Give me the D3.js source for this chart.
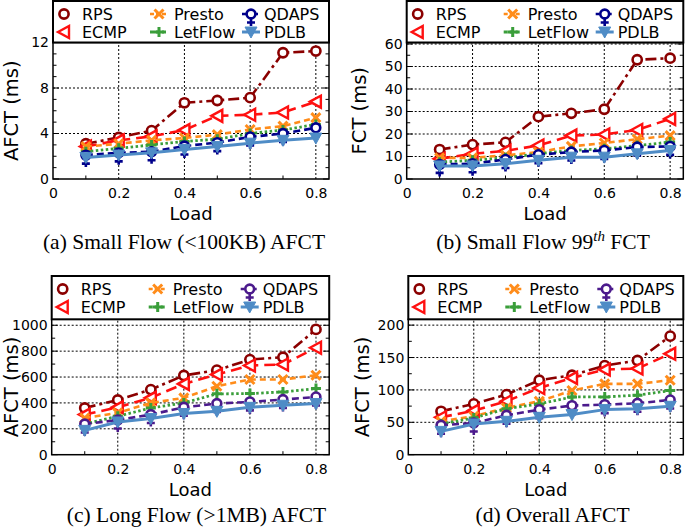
<!DOCTYPE html>
<html><head><meta charset="utf-8">
<script src="https://cdn.jsdelivr.net/npm/d3@7"></script>
<style>body{margin:0;background:#fff}svg{display:block}</style>
</head><body>
<svg id="c" width="685" height="532"></svg>
<script>
// ---------- data ----------
const loads = [0.1,0.2,0.3,0.4,0.5,0.6,0.7,0.8];
const seriesNames = ["RPS","ECMP","Presto","LetFlow","QDAPS","PDLB"];
const xTicks = [0,0.2,0.4,0.6,0.8];

// (a) Small flow AFCT (ms)
const smallAfctRPS     = [3.1,3.65,4.25,6.7,6.9,7.15,11.1,11.25];
const smallAfctECMP    = [2.85,3.4,3.75,4.3,5.55,5.65,5.85,6.8];
const smallAfctPresto  = [2.85,3.1,3.4,3.6,3.9,4.35,4.65,5.4];
const smallAfctLetFlow = [2.4,2.7,3.0,3.3,3.5,4.0,4.3,4.8];
const smallAfctQDAPS   = [2.1,2.3,2.4,2.9,3.2,3.7,4.0,4.5];
const smallAfctPDLB    = [1.9,2.1,2.3,2.6,2.85,3.15,3.4,3.6];
const yTicksA = [0,4,8,12];

// (b) Small flow 99th FCT (ms)
const small99RPS     = [13.1,15.3,16.3,27.7,29.2,31,53,53.7];
const small99ECMP    = [9,11.2,12.5,14.9,19.3,19.8,21.8,26.7];
const small99Presto  = [9.4,9.4,10.5,12,14.5,16,17.7,19.3];
const small99LetFlow = [7.5,8.3,9.4,11.2,12.7,13.4,14.9,16.4];
const small99QDAPS   = [6.5,6.8,8.7,10.8,12,12.7,14.2,14.5];
const small99PDLB    = [5.8,5.8,6.8,8.3,9.7,9.7,11.2,12.7];
const yTicksB = [0,10,20,30,40,50,60];

// (c) Long flow AFCT (ms)
const longAfctRPS     = [361,423,503,612,653,735,753,968];
const longAfctECMP    = [310,366,439,547,619,689,697,826];
const longAfctPresto  = [284,323,400,439,529,581,581,614];
const longAfctLetFlow = [237,297,361,400,470,472,485,511];
const longAfctQDAPS   = [237,268,310,366,395,408,426,446];
const longAfctPDLB    = [188,253,279,318,335,366,382,395];
const yTicksC = [0,200,400,600,800,1000];

// (d) Overall AFCT (ms)
const allAfctRPS     = [67,78.4,92.8,115,122.7,137.6,145.4,183];
const allAfctECMP    = [57.7,68,82.5,103,118.6,131.4,133,155.7];
const allAfctPresto  = [51.5,59.3,72.2,82.5,99,109.3,109.3,115];
const allAfctLetFlow = [47.4,56.7,71,78.4,89.2,89.2,91.8,99];
const allAfctQDAPS   = [45.4,49,60.8,69.6,75.8,77.3,79.4,84.5];
const allAfctPDLB    = [36,47.4,51.5,57.7,61.9,69.6,71,74.7];
const yTicksD = [0,50,100,150,200];

// ---------- layout / style ----------
const panels = [
  {series:[smallAfctRPS,smallAfctECMP,smallAfctPresto,smallAfctLetFlow,smallAfctQDAPS,smallAfctPDLB],
   yTicks:yTicksA, yMax:12, minor:1, left:53, right:329, top:42.5, bottom:179, legTop:1,
   ylabel:"AFCT (ms)", ylabX:18, qColor:"#00008b", capX:184, capY:249, cap:"a"},
  {series:[small99RPS,small99ECMP,small99Presto,small99LetFlow,small99QDAPS,small99PDLB],
   yTicks:yTicksB, yMax:60.67, minor:5, left:406.7, right:683.3, top:42.5, bottom:179, legTop:1,
   ylabel:"FCT (ms)", ylabX:366, qColor:"#00008b", capX:543, capY:249, cap:"b"},
  {series:[longAfctRPS,longAfctECMP,longAfctPresto,longAfctLetFlow,longAfctQDAPS,longAfctPDLB],
   yTicks:yTicksC, yMax:1046, minor:100, left:51.7, right:329.2, top:319.3, bottom:454.7, legTop:276,
   ylabel:"AFCT (ms)", ylabX:18, qColor:"#4b1a8c", capX:196.5, capY:522, cap:"c"},
  {series:[allAfctRPS,allAfctECMP,allAfctPresto,allAfctLetFlow,allAfctQDAPS,allAfctPDLB],
   yTicks:yTicksD, yMax:209, minor:25, left:408.3, right:683.3, top:319.3, bottom:454.7, legTop:276,
   ylabel:"AFCT (ms)", ylabX:369, qColor:"#4b1a8c", capX:552.5, capY:522, cap:"d"}
];

const styles = [
  {color:"#8b0000", dash:"11,4,3,4", w:2.6, marker:"circle"},
  {color:"#ff1010", dash:"11,6", w:2.6, marker:"ltri"},
  {color:"#ff8c1a", dash:"6,4", w:2.6, marker:"x"},
  {color:"#3a9e3a", dash:"2.5,2.5", w:2.8, marker:"plus"},
  {color:null, dash:"7,4", w:2.6, marker:"venus"},
  {color:"#4f8cc6", dash:null, w:3, marker:"dtri"}
];

const svg = d3.select("#c");
const SANS = "DejaVu Sans";
const SERIF = "Liberation Serif";

function drawMarker(g, type, color, x, y) {
  if (type === "circle") {
    g.append("circle").attr("cx",x).attr("cy",y).attr("r",4.6)
      .attr("fill","#fff").attr("stroke",color).attr("stroke-width",2.6);
  } else if (type === "ltri") {
    g.append("path").attr("d",`M${x-6},${y}L${x+5},${y-6}L${x+5},${y+6}Z`)
      .attr("fill","#fff").attr("stroke",color).attr("stroke-width",2.4).attr("stroke-linejoin","miter");
  } else if (type === "x") {
    g.append("path").attr("d",`M${x-4.5},${y-4.5}L${x+4.5},${y+4.5}M${x-4.5},${y+4.5}L${x+4.5},${y-4.5}`)
      .attr("stroke",color).attr("stroke-width",3).attr("fill","none");
  } else if (type === "plus") {
    g.append("path").attr("d",`M${x-5},${y}L${x+5},${y}M${x},${y-5}L${x},${y+5}`)
      .attr("stroke",color).attr("stroke-width",3).attr("fill","none");
  } else if (type === "venus") {
    g.append("path").attr("d",`M${x},${y+4.5}L${x},${y+12}M${x-4},${y+8.5}L${x+4},${y+8.5}`)
      .attr("stroke",color).attr("stroke-width",2.6).attr("fill","none");
    g.append("circle").attr("cx",x).attr("cy",y).attr("r",4.4)
      .attr("fill","#fff").attr("stroke",color).attr("stroke-width",2.6);
  } else if (type === "dtri") {
    g.append("path").attr("d",`M${x-6},${y-5}L${x+6},${y-5}L${x},${y+6}Z`)
      .attr("fill",color).attr("stroke",color).attr("stroke-width",1);
  }
}

panels.forEach(p => {
  const g = svg.append("g");
  const x = d3.scaleLinear().domain([0,0.84]).range([p.left,p.right]);
  const y = d3.scaleLinear().domain([0,p.yMax]).range([p.bottom,p.top]);

  // grid
  const gridG = g.append("g").attr("stroke","#000").attr("stroke-width",1).attr("stroke-dasharray","2,2");
  xTicks.filter(t=>t>0).forEach(t=>{
    gridG.append("line").attr("x1",x(t)).attr("x2",x(t)).attr("y1",p.bottom).attr("y2",p.top);
  });
  p.yTicks.filter(t=>t>0 && y(t) > p.top+1).forEach(t=>{
    gridG.append("line").attr("x1",p.left).attr("x2",p.right).attr("y1",y(t)).attr("y2",y(t));
  });

  // minor/major ticks (inside)
  const tk = g.append("g").attr("stroke","#000").attr("stroke-width",1);
  for (let v = 0; v <= p.yMax + 1e-9; v += p.minor) {
    const isMajor = p.yTicks.some(t=>Math.abs(t-v)<1e-9);
    const L = isMajor ? 6 : 3.5;
    tk.append("line").attr("x1",p.left).attr("x2",p.left+L).attr("y1",y(v)).attr("y2",y(v));
    tk.append("line").attr("x1",p.right).attr("x2",p.right-L).attr("y1",y(v)).attr("y2",y(v));
  }
  [0.1,0.3,0.5,0.7].forEach(t=>{
    tk.append("line").attr("x1",x(t)).attr("x2",x(t)).attr("y1",p.bottom).attr("y2",p.bottom-3.5);
  });

  // tick labels via d3 axes
  const xa = d3.axisBottom(x).tickValues(xTicks).tickSize(0).tickPadding(0)
    .tickFormat(d=> d===0 ? "0" : d3.format(".1f")(d));
  const xg = g.append("g").attr("transform",`translate(0,${p.bottom})`).call(xa);
  xg.select(".domain").remove();
  xg.selectAll("text").attr("font-family",SANS).attr("font-size",14).attr("fill","#000")
    .attr("dy",null).attr("y",19);

  const ya = d3.axisLeft(y).tickValues(p.yTicks).tickSize(0).tickPadding(4).tickFormat(d3.format("d"));
  const yg = g.append("g").attr("transform",`translate(${p.left},0)`).call(ya);
  yg.select(".domain").remove();
  yg.selectAll("text").attr("font-family",SANS).attr("font-size",14).attr("fill","#000");

  // series
  p.series.forEach((vals,i)=>{
    const st = styles[i];
    const color = st.color || p.qColor;
    const line = d3.line().x((d,j)=>x(loads[j])).y(d=>y(d));
    g.append("path").datum(vals).attr("d",line).attr("fill","none")
      .attr("stroke",color).attr("stroke-width",st.w)
      .attr("stroke-dasharray",st.dash).attr("stroke-linejoin","round");
    const mg = g.append("g");
    vals.forEach((v,j)=>drawMarker(mg, st.marker, color, x(loads[j]), y(v)));
  });

  // frame
  g.append("rect").attr("x",p.left).attr("y",p.top).attr("width",p.right-p.left).attr("height",p.bottom-p.top)
    .attr("fill","none").attr("stroke","#000").attr("stroke-width",1.5);

  // legend
  const lg = g.append("g");
  lg.append("rect").attr("x",p.left).attr("y",p.legTop).attr("width",p.right-p.left).attr("height",p.top-p.legTop)
    .attr("fill","#fff").attr("stroke","#000").attr("stroke-width",2);
  const cols = [{m:11,t:29,half:0},{m:106,t:121,half:9},{m:198,t:211,half:9}];
  const rows = [13,31];
  seriesNames.forEach((name,i)=>{
    const c = cols[Math.floor(i/2)], r = rows[i%2];
    const st = styles[i];
    const color = st.color || p.qColor;
    const cx = p.left + c.m, cy = p.legTop + r;
    if (c.half>0) {
      lg.append("line").attr("x1",cx-c.half).attr("x2",cx+c.half).attr("y1",cy).attr("y2",cy)
        .attr("stroke",color).attr("stroke-width",st.w).attr("stroke-dasharray",st.dash ? "4,2" : null);
    }
    drawMarker(lg, st.marker, color, cx, cy);
    lg.append("text").attr("x",p.left+c.t).attr("y",cy+6).attr("font-family",SANS)
      .attr("font-size",16).attr("fill","#000").text(name);
  });

  // axis titles
  g.append("text").attr("x",(p.left+p.right)/2).attr("y",p.bottom+41).attr("text-anchor","middle")
    .attr("font-family",SANS).attr("font-size",18).attr("fill","#000").text("Load");
  g.append("text").attr("transform",`translate(${p.ylabX},${(p.top+p.bottom)/2}) rotate(-90)`)
    .attr("text-anchor","middle").attr("font-family",SANS).attr("font-size",19.5).attr("fill","#000")
    .text(p.ylabel);

  // caption
  const cap = g.append("text").attr("x",p.capX).attr("y",p.capY).attr("text-anchor","middle")
    .attr("font-family",SERIF).attr("font-size",21.5).attr("fill","#000");
  if (p.cap==="a") cap.text("(a) Small Flow (<100KB) AFCT");
  if (p.cap==="b") {
    cap.append("tspan").text("(b) Small Flow 99");
    cap.append("tspan").attr("dy",-8).attr("font-size",15).attr("font-style","italic").text("th");
    cap.append("tspan").attr("dy",8).text(" FCT");
  }
  if (p.cap==="c") cap.text("(c) Long Flow (>1MB) AFCT");
  if (p.cap==="d") cap.text("(d) Overall AFCT");
});
</script>
</body></html>
